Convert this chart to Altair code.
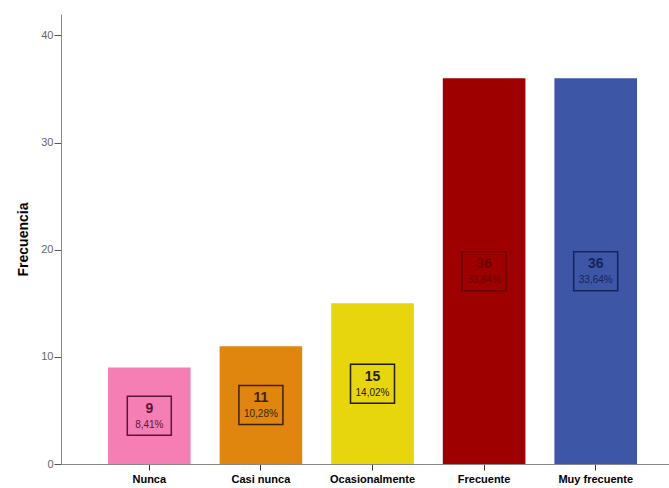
import altair as alt
import pandas as pd

categories = ["Nunca", "Casi nunca", "Ocasionalmente", "Frecuente", "Muy frecuente"]
counts = [9, 11, 15, 36, 36]
percent_labels = ["8,41%", "10,28%", "14,02%", "33,64%", "33,64%"]
bar_colors = ["#F57FB4", "#E0860F", "#E6D60B", "#9E0000", "#3E56A6"]
label_colors = ["#5A1538", "#3A2208", "#1E1C05", "#6A0000", "#17245A"]

df = pd.DataFrame({
    "cat": categories,
    "n": counts,
    "pct": percent_labels,
    "lc": label_colors,
})
df["mid"] = df["n"] / 2
df["lo"] = df["mid"] - 1.82
df["hi"] = df["mid"] + 1.82

FONT = "Liberation Sans"

x = alt.X(
    "cat:N",
    sort=categories,
    title=None,
    scale=alt.Scale(paddingInner=0.26, paddingOuter=0.354, align=0.595),
    axis=alt.Axis(
        labelAngle=0, labelFont=FONT, labelFontWeight="bold", labelFontSize=11,
        labelColor="#000000", domainColor="#888888", tickColor="#333333",
        tickSize=6, labelPadding=3, domainWidth=1,
    ),
)

base = alt.Chart(df)

bars = base.mark_bar().encode(
    x=x,
    y=alt.Y(
        "n:Q",
        scale=alt.Scale(domain=[0, 42], nice=False),
        title="Frecuencia",
        axis=alt.Axis(
            values=[0, 10, 20, 30, 40], grid=False, labelFont=FONT, labelFontSize=11,
            labelColor="#666666", domainColor="#888888", tickColor="#555555",
            tickSize=7, labelPadding=1, titleFont=FONT, titleFontSize=14,
            titleFontWeight="bold", titleColor="#000000", titlePadding=10,
        ),
    ),
    color=alt.Color("cat:N", sort=categories,
                    scale=alt.Scale(domain=categories, range=bar_colors), legend=None),
)

boxes = base.mark_bar(width=44, fillOpacity=0, strokeWidth=1.5).encode(
    x=alt.X("cat:N", sort=categories),
    y="lo:Q",
    y2="hi:Q",
    stroke=alt.Stroke("lc:N", scale=None),
)

count_text = base.mark_text(font=FONT, fontSize=14, fontWeight="bold", dy=-7).encode(
    x=alt.X("cat:N", sort=categories),
    y="mid:Q",
    text="n:Q",
    color=alt.Color("lc:N", scale=None),
)

pct_text = base.mark_text(font=FONT, fontSize=10, dy=9).encode(
    x=alt.X("cat:N", sort=categories),
    y="mid:Q",
    text="pct:N",
    color=alt.Color("lc:N", scale=None),
)

chart = alt.layer(bars, boxes, count_text, pct_text).properties(
    width=608,
    height=450,
    background="white",
    autosize=alt.AutoSizeParams(type="none"),
    padding={"left": 61, "top": 14, "right": 0, "bottom": 24},
).configure_view(strokeWidth=0, stroke="transparent")

chart.save("out.html", embed_options={"renderer": "svg", "actions": False})
